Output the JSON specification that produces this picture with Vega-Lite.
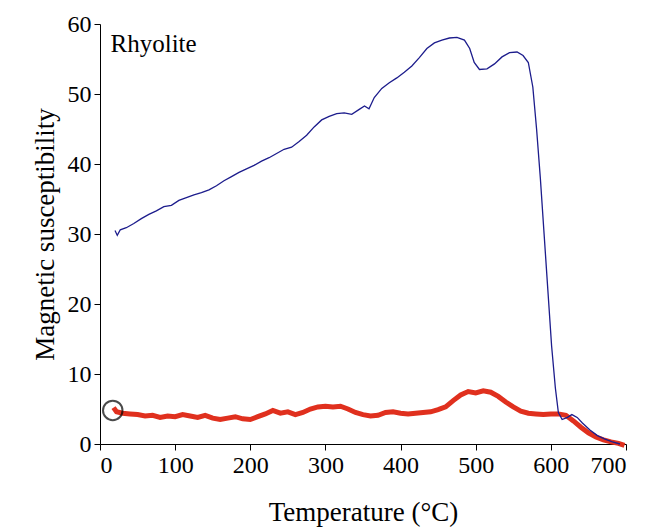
{
"$schema":"https://vega.github.io/schema/vega-lite/v6.json",
"autosize":{"type":"none"},
"width":526,"height":420,
"padding":{"left":100,"top":24,"right":34,"bottom":84},
"background":"white",
"config":{"view":{"stroke":null},"font":"Liberation Serif"},
"datasets":{
"blue":[
{"t":20,"v":30.5},{"t":23,"v":29.8},{"t":27,"v":30.6},{"t":35,"v":30.9},{"t":45,"v":31.5},{"t":55,"v":32.2},{"t":65,"v":32.8},{"t":75,"v":33.3},{"t":85,"v":33.9},{"t":95,"v":34.1},{"t":105,"v":34.8},{"t":115,"v":35.2},{"t":125,"v":35.6},{"t":135,"v":35.9},{"t":145,"v":36.3},{"t":155,"v":36.9},{"t":165,"v":37.6},{"t":175,"v":38.2},{"t":185,"v":38.8},{"t":195,"v":39.3},{"t":205,"v":39.8},{"t":215,"v":40.4},{"t":225,"v":40.9},{"t":235,"v":41.5},{"t":245,"v":42.1},{"t":255,"v":42.4},{"t":265,"v":43.2},{"t":275,"v":44.1},{"t":285,"v":45.3},{"t":295,"v":46.3},{"t":305,"v":46.8},{"t":315,"v":47.2},{"t":325,"v":47.3},{"t":335,"v":47.1},{"t":345,"v":47.8},{"t":352,"v":48.3},{"t":358,"v":47.9},{"t":365,"v":49.5},{"t":375,"v":50.8},{"t":385,"v":51.6},{"t":395,"v":52.3},{"t":405,"v":53.1},{"t":415,"v":54.0},{"t":425,"v":55.2},{"t":435,"v":56.5},{"t":445,"v":57.3},{"t":455,"v":57.7},{"t":465,"v":58.0},{"t":475,"v":58.1},{"t":485,"v":57.7},{"t":492,"v":56.5},{"t":498,"v":54.5},{"t":505,"v":53.5},{"t":515,"v":53.6},{"t":525,"v":54.3},{"t":535,"v":55.3},{"t":545,"v":55.9},{"t":555,"v":56.0},{"t":563,"v":55.5},{"t":570,"v":54.5},{"t":576,"v":51},{"t":581,"v":45},{"t":586,"v":38},{"t":591,"v":30},{"t":596,"v":22},{"t":601,"v":14},{"t":606,"v":8},{"t":610,"v":4.5},{"t":615,"v":3.5},{"t":622,"v":3.8},{"t":628,"v":4.2},{"t":635,"v":3.8},{"t":642,"v":3},{"t":652,"v":2},{"t":662,"v":1.2},{"t":672,"v":0.7},{"t":682,"v":0.3},{"t":692,"v":0}
],
"red":[
{"t":18,"v":5.2},{"t":22,"v":4.6},{"t":30,"v":4.4},{"t":40,"v":4.3},{"t":50,"v":4.2},{"t":60,"v":4.0},{"t":70,"v":4.1},{"t":80,"v":3.8},{"t":90,"v":4.0},{"t":100,"v":3.9},{"t":110,"v":4.2},{"t":120,"v":4.0},{"t":130,"v":3.8},{"t":140,"v":4.1},{"t":150,"v":3.7},{"t":160,"v":3.5},{"t":170,"v":3.7},{"t":180,"v":3.9},{"t":190,"v":3.6},{"t":200,"v":3.5},{"t":210,"v":3.9},{"t":220,"v":4.3},{"t":230,"v":4.8},{"t":240,"v":4.4},{"t":250,"v":4.6},{"t":260,"v":4.2},{"t":270,"v":4.5},{"t":280,"v":5.0},{"t":290,"v":5.3},{"t":300,"v":5.4},{"t":310,"v":5.3},{"t":320,"v":5.4},{"t":330,"v":5.0},{"t":340,"v":4.5},{"t":350,"v":4.2},{"t":360,"v":4.0},{"t":370,"v":4.1},{"t":380,"v":4.5},{"t":390,"v":4.6},{"t":400,"v":4.4},{"t":410,"v":4.3},{"t":420,"v":4.4},{"t":430,"v":4.5},{"t":440,"v":4.6},{"t":450,"v":4.9},{"t":460,"v":5.3},{"t":470,"v":6.2},{"t":480,"v":7.0},{"t":490,"v":7.5},{"t":500,"v":7.3},{"t":510,"v":7.6},{"t":520,"v":7.4},{"t":530,"v":6.8},{"t":540,"v":6.0},{"t":550,"v":5.3},{"t":560,"v":4.7},{"t":570,"v":4.4},{"t":580,"v":4.3},{"t":590,"v":4.2},{"t":600,"v":4.3},{"t":610,"v":4.3},{"t":620,"v":4.1},{"t":630,"v":3.3},{"t":640,"v":2.4},{"t":650,"v":1.6},{"t":660,"v":1.0},{"t":670,"v":0.6},{"t":680,"v":0.3},{"t":690,"v":0.1},{"t":698,"v":-0.2}
],
"mark":[{"t":17,"v":4.8}],
"label":[{"t":14,"v":57.2,"text":"Rhyolite"}]
},
"encoding":{
"x":{"field":"t","type":"quantitative","scale":{"domain":[0,700],"nice":false},
"axis":{"title":"Temperature (°C)","values":[0,100,200,300,400,500,600,700],"grid":false,"domainColor":"black","tickColor":"black","labelFontSize":24,"titleFontSize":27,"titleFontWeight":"normal","labelColor":"black","titleColor":"black","labelPadding":3,"titlePadding":22,"tickSize":6}},
"y":{"field":"v","type":"quantitative","scale":{"domain":[0,60],"nice":false},
"axis":{"title":"Magnetic susceptibility","values":[0,10,20,30,40,50,60],"grid":false,"domainColor":"black","tickColor":"black","labelFontSize":24,"titleFontSize":27,"titleFontWeight":"normal","labelColor":"black","titleColor":"black","labelPadding":3,"titlePadding":8,"tickSize":6}}
},
"layer":[
{"data":{"name":"red"},"mark":{"type":"line","color":"#e0301e","strokeWidth":5}},
{"data":{"name":"blue"},"mark":{"type":"line","color":"#1c1c8c","strokeWidth":1.3}},
{"data":{"name":"mark"},"mark":{"type":"point","shape":"circle","size":380,"filled":false,"stroke":"black","strokeWidth":2}},
{"data":{"name":"label"},"mark":{"type":"text","align":"left","fontSize":25,"color":"black"},"encoding":{"text":{"field":"text"}}}
]
}
